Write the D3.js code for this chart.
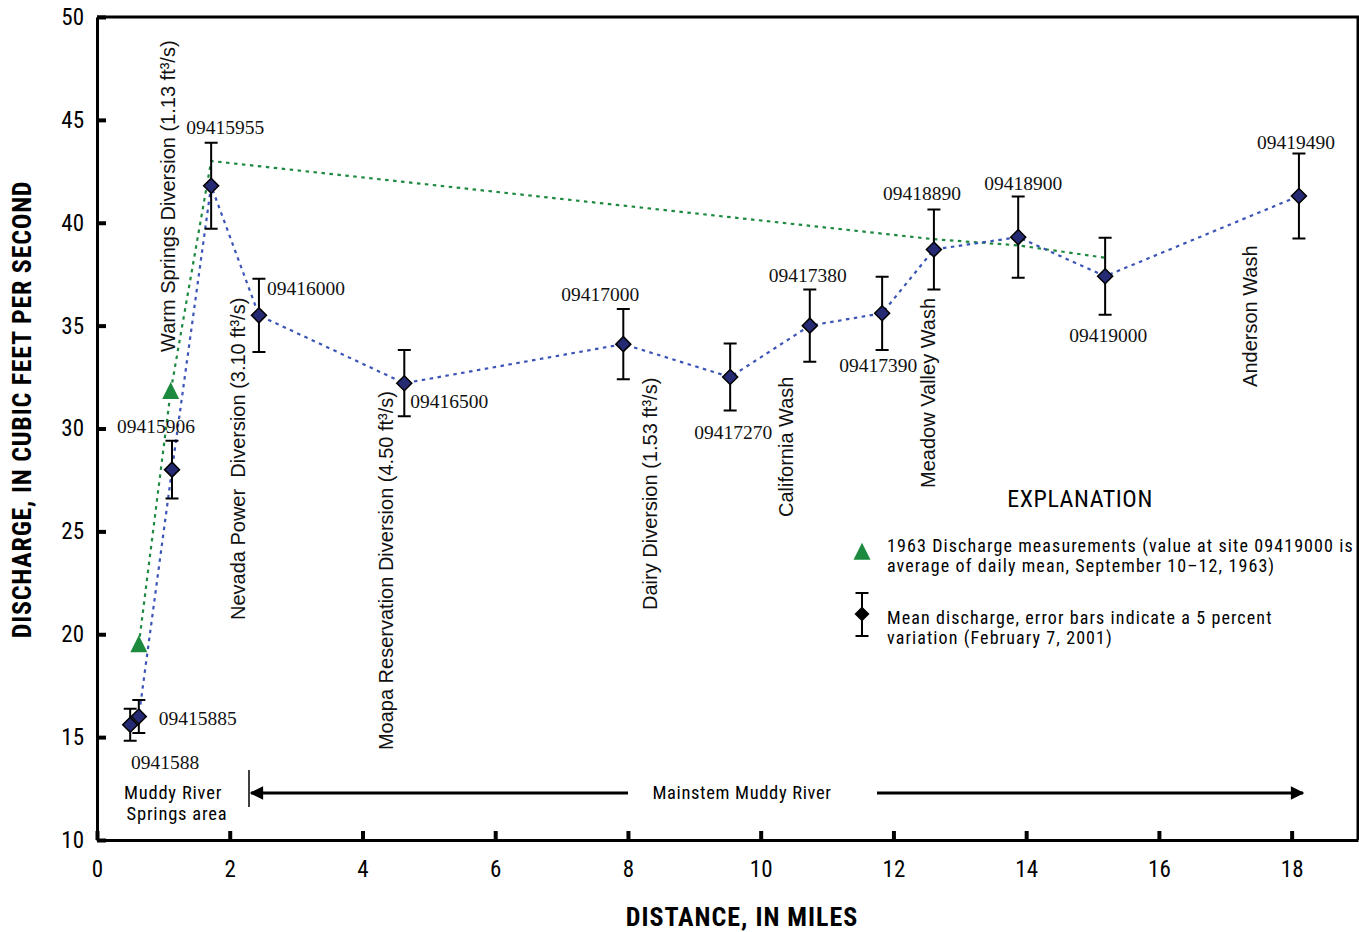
<!DOCTYPE html>
<html>
<head>
<meta charset="utf-8">
<script src="https://cdn.jsdelivr.net/npm/d3@7"></script>
<style>
  html, body { margin: 0; padding: 0; background: #fff; }
  svg { display: block; }
  .cond { font-family: "Liberation Sans Narrow", "Arial Narrow", "Roboto Condensed", "Liberation Sans", sans-serif; }
  .serif { font-family: "Liberation Serif", "Times New Roman", serif; }
  .sans { font-family: "Liberation Sans", Arial, sans-serif; white-space: pre; }
</style>
</head>
<body>
<svg id="chart" width="1359" height="932"></svg>
<script>
// ---------------- DATA ----------------
const stations = ["0941588","09415885","09415906","09415955","09416000","09416500","09417000",
                  "09417270","09417380","09417390","09418890","09418900","09419000","09419490"];
const distance2001 = [0.50, 0.63, 1.13, 1.72, 2.44, 4.63, 7.93, 9.54, 10.74, 11.83, 12.61, 13.88, 15.19, 18.11];
const discharge2001 = [15.6, 16.0, 28.0, 41.8, 35.5, 32.2, 34.1, 32.5, 35.0, 35.6, 38.7, 39.3, 37.4, 41.3];
const errorHalf2001 = [0.78, 0.80, 1.40, 2.09, 1.78, 1.61, 1.71, 1.63, 1.75, 1.78, 1.94, 1.97, 1.87, 2.07];

const distance1963 = [0.63, 1.11, 1.72, 12.61, 13.88, 15.19];
const discharge1963 = [19.5, 31.8, 43.0, 39.2, 38.9, 38.3];
const marker1963 = [true, true, false, false, false, false];

const xTicks = [0, 2, 4, 6, 8, 10, 12, 14, 16, 18];
const yTicks = [10, 15, 20, 25, 30, 35, 40, 45, 50];

const featureNames = ["Warm Springs Diversion (1.13 ft³/s)", "Nevada Power  Diversion (3.10 ft³/s)",
  "Moapa Reservation Diversion (4.50 ft³/s)", "Dairy Diversion (1.53 ft³/s)",
  "California Wash", "Meadow Valley Wash", "Anderson Wash"];
const featureDistance = [1.175, 2.23, 4.46, 8.44, 10.49, 12.63, 17.48];
const featureStartQ = [33.72, 20.69, 14.37, 21.18, 25.70, 27.11, 32.02];

// ---------------- LAYOUT ----------------
const labelLayout = [
  {dx: 35, dy: 44, a: "middle"}, {dx: 20, dy: 8, a: "start"}, {dx: -16, dy: -37, a: "middle"},
  {dx: 14, dy: -52, a: "middle"}, {dx: 8, dy: -20, a: "start"}, {dx: 6, dy: 25, a: "start"},
  {dx: -23, dy: -43, a: "middle"}, {dx: 3, dy: 62, a: "middle"}, {dx: -2, dy: -44, a: "middle"},
  {dx: -4, dy: 59, a: "middle"}, {dx: -12, dy: -49, a: "middle"}, {dx: 5, dy: -47, a: "middle"},
  {dx: 3, dy: 66, a: "middle"}, {dx: -3, dy: -47, a: "middle"}
];

const svg = d3.select("#chart");
const x = d3.scaleLinear().domain([0, 19]).range([97, 1358]);
const y = d3.scaleLinear().domain([10, 50]).range([840, 17]);

const BLUE = "#3b55b6", GREEN = "#1e8a40", NAVY = "#252a72", TRI = "#1b8a3e";

// Frame (top + right)
svg.append("path")
  .attr("d", `M${x(0)},${y(50)}H${x(19)}V${y(10)}`)
  .attr("fill", "none").attr("stroke", "#000").attr("stroke-width", 3);

// Axes
const yAxis = d3.axisLeft(y).tickValues(yTicks).tickSizeInner(-9).tickSizeOuter(0).tickPadding(13);
const gy = svg.append("g").attr("transform", `translate(${x(0)},0)`).call(yAxis);
gy.select(".domain").attr("stroke-width", 3);
gy.selectAll(".tick line").attr("stroke-width", 4);
gy.selectAll(".tick text").attr("class", "cond").attr("font-size", 23).attr("fill", "#000");

const xAxis = d3.axisBottom(x).tickValues(xTicks).tickSizeInner(-9).tickSizeOuter(0).tickPadding(21);
const gx = svg.append("g").attr("transform", `translate(0,${y(10)})`).call(xAxis);
gx.select(".domain").attr("stroke-width", 3);
gx.selectAll(".tick line").attr("stroke-width", 4);
gx.selectAll(".tick text").attr("class", "cond").attr("font-size", 23).attr("fill", "#000");

// Axis titles
svg.append("text").attr("class", "cond")
  .attr("transform", `translate(31,${(y(10)+y(50))/2 - 19}) rotate(-90)`)
  .attr("text-anchor", "middle").attr("font-weight", "bold").attr("font-size", 26)
  .attr("letter-spacing", 0.75)
  .text("DISCHARGE, IN CUBIC FEET PER SECOND");
svg.append("text").attr("class", "cond")
  .attr("x", 742).attr("y", 926)
  .attr("text-anchor", "middle").attr("font-weight", "bold").attr("font-size", 26)
  .attr("letter-spacing", 1.0)
  .text("DISTANCE, IN MILES");

// Feature (rotated) labels
featureNames.forEach((t, i) => {
  svg.append("text").attr("class", "sans")
    .attr("transform", `translate(${x(featureDistance[i])},${y(featureStartQ[i])}) rotate(-90)`)
    .attr("text-anchor", "start").attr("font-size", 20).attr("fill", "#111")
    .text(t);
});

// 1963 line
const pts1963 = distance1963.map((d, i) => [x(d), y(discharge1963[i])]);
svg.append("path").attr("d", d3.line()(pts1963))
  .attr("fill", "none").attr("stroke", GREEN).attr("stroke-width", 2.2).attr("stroke-dasharray", "3.5,4.5");

// 2001 line
const pts2001 = distance2001.map((d, i) => [x(d), y(discharge2001[i])]);
svg.append("path").attr("d", d3.line()(pts2001))
  .attr("fill", "none").attr("stroke", BLUE).attr("stroke-width", 2.2).attr("stroke-dasharray", "3.5,4.5");

// Error bars
const cap = 6.5;
distance2001.forEach((d, i) => {
  const cx = x(d), y1 = y(discharge2001[i] + errorHalf2001[i]), y2 = y(discharge2001[i] - errorHalf2001[i]);
  svg.append("path")
    .attr("d", `M${cx},${y1}V${y2}M${cx-cap},${y1}H${cx+cap}M${cx-cap},${y2}H${cx+cap}`)
    .attr("fill", "none").attr("stroke", "#000").attr("stroke-width", 2);
});

// Diamonds
const diamond = (cx, cy, r) => `M${cx},${cy-r}L${cx+r},${cy}L${cx},${cy+r}L${cx-r},${cy}Z`;
distance2001.forEach((d, i) => {
  svg.append("path").attr("d", diamond(x(d), y(discharge2001[i]), 7.5))
    .attr("fill", NAVY).attr("stroke", "#000").attr("stroke-width", 1.5);
});

// Triangles
const triangle = (cx, cy, s) => `M${cx},${cy - s*0.55}L${cx + s/2},${cy + s*0.45}L${cx - s/2},${cy + s*0.45}Z`;
distance1963.forEach((d, i) => {
  if (!marker1963[i]) return;
  svg.append("path").attr("d", triangle(x(d), y(discharge1963[i]), 17)).attr("fill", TRI);
});

// Station labels
stations.forEach((s, i) => {
  const L = labelLayout[i];
  svg.append("text").attr("class", "serif")
    .attr("x", x(distance2001[i]) + L.dx).attr("y", y(discharge2001[i]) + L.dy)
    .attr("text-anchor", L.a).attr("font-size", 19.5).attr("fill", "#111")
    .text(s);
});

// Reach annotation
const arrowY = 793;
svg.append("defs").html(`
  <marker id="ah" viewBox="0 0 10 10" refX="9" refY="5" markerWidth="5" markerHeight="4.5" orient="auto-start-reverse" markerUnits="strokeWidth">
    <path d="M0,0L10,5L0,10Z" fill="#000"/></marker>`);
svg.append("line").attr("x1", 249).attr("x2", 249).attr("y1", 770).attr("y2", 807)
  .attr("stroke", "#000").attr("stroke-width", 1.5);
svg.append("line").attr("x1", 628).attr("x2", 251).attr("y1", arrowY).attr("y2", arrowY)
  .attr("stroke", "#000").attr("stroke-width", 3).attr("marker-end", "url(#ah)");
svg.append("line").attr("x1", 877).attr("x2", 1303).attr("y1", arrowY).attr("y2", arrowY)
  .attr("stroke", "#000").attr("stroke-width", 3).attr("marker-end", "url(#ah)");
svg.append("text").attr("class", "cond").attr("x", 742).attr("y", 799)
  .attr("text-anchor", "middle").attr("font-size", 18.5).attr("letter-spacing", 0.65).text("Mainstem Muddy River");
svg.append("text").attr("class", "cond").attr("x", 173).attr("y", 799)
  .attr("text-anchor", "middle").attr("font-size", 18.5).attr("letter-spacing", 0.8).text("Muddy River");
svg.append("text").attr("class", "cond").attr("x", 177).attr("y", 820)
  .attr("text-anchor", "middle").attr("font-size", 18.5).attr("letter-spacing", 0.8).text("Springs area");

// Legend
svg.append("text").attr("class", "cond").attr("x", 1080).attr("y", 507)
  .attr("text-anchor", "middle").attr("font-size", 24).attr("letter-spacing", 0.6).text("EXPLANATION");
svg.append("path").attr("d", triangle(862, 552, 17)).attr("fill", TRI);
const legendText = [
  ["1963 Discharge measurements (value at site 09419000 is", 552],
  ["average of daily mean, September 10–12, 1963)", 571.5],
  ["Mean discharge, error bars indicate a 5 percent", 624],
  ["variation (February 7, 2001)", 643.5]
];
legendText.forEach(([t, yy]) => {
  svg.append("text").attr("class", "cond").attr("x", 887).attr("y", yy)
    .attr("font-size", 18).attr("letter-spacing", 1.1).text(t);
});
svg.append("path").attr("d", `M862,593V636M855.5,593H868.5M855.5,636H868.5`)
  .attr("fill", "none").attr("stroke", "#000").attr("stroke-width", 2);
svg.append("path").attr("d", diamond(862, 614, 7.5)).attr("fill", "#000");
</script>
</body>
</html>
